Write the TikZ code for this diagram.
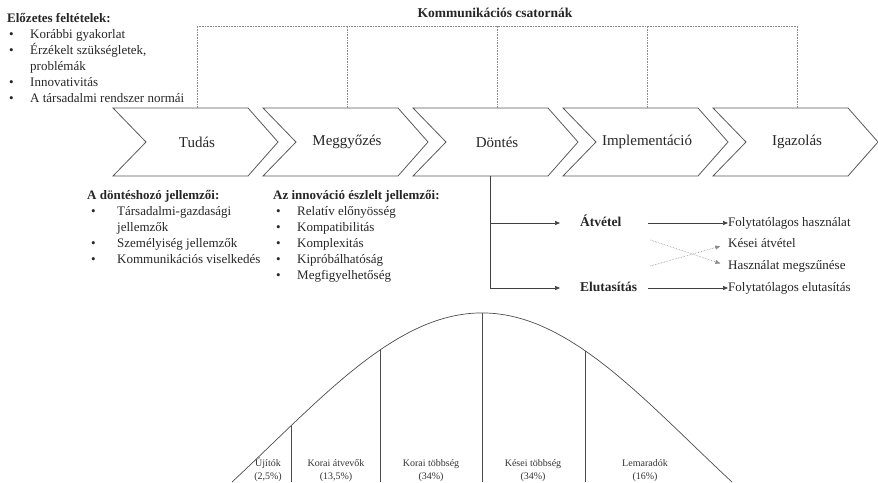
\documentclass[tikz,border=0pt]{standalone}
\usepackage{fontspec}
\setmainfont{Liberation Serif}
\usetikzlibrary{arrows.meta}

\begin{document}
\begin{tikzpicture}[x=1pt, y=-1pt,
        every node/.style={text=black!85},
        chevron/.style={draw=black!65, line width=0.8pt, line join=miter},
        stage/.style={minimum width=100pt, minimum height=68pt, inner sep=0pt,
            font=\fontsize{15}{18}\selectfont},
        channel/.style={draw=black!45, densely dotted, line width=0.6pt},
        list/.style={inner sep=0pt, anchor=base west, font=\fontsize{13}{16}\selectfont},
        choice/.style={anchor=west, inner sep=0pt, text width=58pt, align=left,
            text height=9pt, text depth=3pt, font=\fontsize{13.5}{16}\selectfont\bfseries},
        result/.style={anchor=west, inner sep=0pt, text height=9pt, text depth=3pt,
            font=\fontsize{13}{16}\selectfont},
        flow/.style={draw=black!75, line width=0.6pt, -{Triangle[length=5pt, width=4pt]}},
        maybe/.style={flow, draw=black!45, densely dotted},
        curve/.style={draw=black!70, line width=0.7pt},
        group/.style={align=center, inner sep=0pt, anchor=south, text=black!80,
            font=\fontsize{10}{13}\selectfont},
    ]
        \useasboundingbox (0,0) rectangle (878,482);

        % Stages of the process
        \foreach \i/\id/\txt in {0/tudas/Tudás, 1/meggyozes/Meggyőzés, 2/dontes/Döntés,
                3/impl/Implementáció, 4/igazolas/Igazolás} {
            \pgfmathsetmacro{\L}{113+150*\i}
            \draw[chevron] (\L,108) -- ++(135,0) -- ++(30,34) -- ++(-30,34)
                -- ++(-135,0) -- ++(33,-34) -- cycle;
            \node[stage] (\id) at (\L+84,142) {\txt};
        }

        % Communication channels
        \node[font=\fontsize{13.5}{16}\selectfont\bfseries] (channels) at (495,13) {Kommunikációs csatornák};
        \coordinate (bar) at (0,26);
        \draw[channel] (tudas.north |- bar) -- (igazolas.north |- bar);
        \foreach \id in {tudas,meggyozes,dontes,impl,igazolas}
            \draw[channel] (\id.north) -- (\id.north |- bar);

        % Lists
        \node[list] (prior) at (7,22) {\begin{tabular}[t]{@{\hspace{2pt}}p{21pt}@{}l@{}}
            \multicolumn{2}{@{}l@{}}{\textbf{Előzetes feltételek:}}\\
            \textbullet & Korábbi gyakorlat\\
            \textbullet & Érzékelt szükségletek,\\
                        & problémák\\
            \textbullet & Innovativitás\\
            \textbullet & A társadalmi rendszer normái
        \end{tabular}};
        \node[list] (maker) at (87,199) {\begin{tabular}[t]{@{\hspace{4pt}}p{26pt}@{}l@{}}
            \multicolumn{2}{@{}l@{}}{\textbf{A döntéshozó jellemzői:}}\\
            \textbullet & Társadalmi-gazdasági\\
                        & jellemzők\\
            \textbullet & Személyiség jellemzők\\
            \textbullet & Kommunikációs viselkedés
        \end{tabular}};
        \node[list] (traits) at (273,199) {\begin{tabular}[t]{@{\hspace{3pt}}p{21pt}@{}l@{}}
            \multicolumn{2}{@{}l@{}}{\textbf{Az innováció észlelt jellemzői:}}\\
            \textbullet & Relatív előnyösség\\
            \textbullet & Kompatibilitás\\
            \textbullet & Komplexitás\\
            \textbullet & Kipróbálhatóság\\
            \textbullet & Megfigyelhetőség
        \end{tabular}};

        % Decision outcomes
        \node[choice] (atvetel) at (580,223) {Átvétel};
        \node[choice] (elutasitas) at (580,288) {Elutasítás};
        \node[result] (folyt) at (728,223) {Folytatólagos használat};
        \node[result] (kesei) at (728,244) {Kései átvétel};
        \node[result] (megszunes) at (728,266) {Használat megszűnése};
        \node[result] (elutfolyt) at (728,288) {Folytatólagos elutasítás};

        \draw[flow] ([xshift=-7pt]dontes.south) |- ([xshift=-20pt]atvetel.west);
        \draw[flow] ([xshift=-7pt]dontes.south) |- ([xshift=-20pt]elutasitas.west);
        \draw[flow] ([xshift=10pt]atvetel.east) -- (folyt.west);
        \draw[flow] ([xshift=10pt]elutasitas.east) -- (elutfolyt.west);
        \draw[maybe, shorten >=8pt] ([shift={(12pt,-17pt)}]atvetel.east) -- (megszunes.west);
        \draw[maybe, shorten >=8pt] ([shift={(12pt,22pt)}]elutasitas.east) -- (kesei.west);

        % Adopter categories
        \draw[curve] plot[domain=232:732, samples=100, smooth]
            (\x, {313+333*(1-exp(((\x-482)/100)^2/(-8.82)))});
        \foreach \d in {291,380,482,585}
            \draw[curve] (\d, {313+333*(1-exp(((\d-482)/100)^2/(-8.82)))}) -- (\d,482);

        \node[group] (ujitok) at (268,482) {Újítók\\(2,5\%)};
        \node[group] (korai) at (336,482) {Korai átvevők\\(13,5\%)};
        \node[group] (koraitobb) at (431,482) {Korai többség\\(34\%)};
        \node[group] (keseitobb) at (533,482) {Kései többség\\(34\%)};
        \node[group] (lemaradok) at (645,482) {Lemaradók\\(16\%)};
    \end{tikzpicture}
\end{document}
